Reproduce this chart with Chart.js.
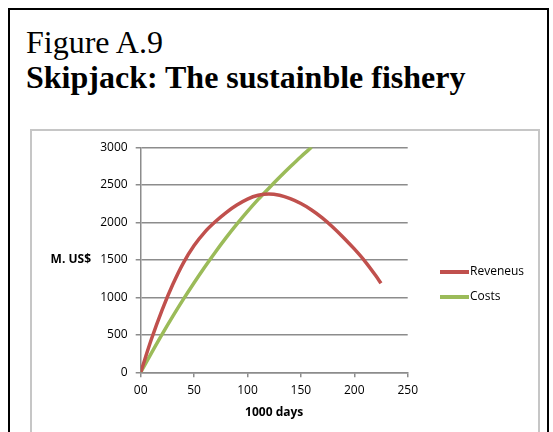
<!DOCTYPE html>
<html>
<head>
<meta charset="utf-8">
<script src="https://cdn.jsdelivr.net/npm/chart.js@4/dist/chart.umd.min.js"></script>
<style>
  html, body { margin: 0; padding: 0; background: #fff; width: 553px; height: 432px; overflow: hidden; }
  .frame { position: absolute; left: 8px; top: 8px; width: 537px; height: 470px; border: 2px solid #000; }
  .inner { position: absolute; left: 30px; top: 129px; width: 506px; height: 340px; border: 2px solid #c6c6c6; }
  .t1, .t2 { position: absolute; left: 26px; font-family: "Liberation Serif", "Times New Roman", serif;
             font-size: 32px; line-height: 32px; white-space: nowrap; color: #000; }
  .t1 { top: 26px; font-weight: normal; }
  .t2 { top: 61px; font-weight: bold; }
  canvas { position: absolute; left: 0; top: 0; }
</style>
</head>
<body>
<div class="frame"></div>
<div class="t1">Figure A.9</div>
<div class="t2">Skipjack: The sustainble fishery</div>
<div class="inner"></div>
<canvas id="c" width="553" height="432"></canvas>
<script>
// Fishing effort (1000 days) and the matching revenue / cost (M. US$)
const revenueEffort = [0, 10, 20, 30, 40, 50, 60, 70, 80, 90, 100, 110, 120, 130, 140, 150, 160, 170, 180, 190, 200, 210, 220, 225];
const revenue       = [0, 440, 830, 1170, 1460, 1690, 1870, 2010, 2130, 2230, 2310, 2360, 2378, 2360, 2315, 2250, 2165, 2060, 1935, 1795, 1645, 1480, 1290, 1187];
const costEffort    = [0, 10, 20, 30, 40, 50, 60, 70, 80, 90, 100, 110, 120, 130, 140, 150, 160];
const costs         = [0, 255, 505, 745, 975, 1195, 1405, 1605, 1795, 1975, 2145, 2305, 2455, 2600, 2740, 2875, 3000];

const seriesNames = ['Reveneus', 'Costs'];
const seriesColors = ['#C0504D', '#9BBB59'];
const xTickLabels = ['00', '50', '100', '150', '200', '250'];
const yTickLabels = ['0', '500', '1000', '1500', '2000', '2500', '3000'];
const yTitle = 'M. US$';
const xTitle = '1000 days';

const FONT = '"Open Sans", "Noto Sans", sans-serif';
const GRID = '#8c8c8c';

function points(xs, ys) { return xs.map((x, i) => ({ x: x, y: ys[i] })); }

// Horizontal y-axis caption and a line-sample legend on the right
const sideText = {
  id: 'sideText',
  afterDraw(chart) {
    const { ctx, chartArea } = chart;
    ctx.save();
    ctx.fillStyle = '#000';
    ctx.textBaseline = 'middle';
    ctx.font = 'bold 12px ' + FONT;
    ctx.textAlign = 'right';
    ctx.fillText(yTitle, 91, (chartArea.top + chartArea.bottom) / 2);

    ctx.font = '12px ' + FONT;
    ctx.textAlign = 'left';
    chart.data.datasets.forEach((ds, i) => {
      const y = 272 + i * 25;
      ctx.strokeStyle = ds.borderColor;
      ctx.lineWidth = 4;
      ctx.beginPath();
      ctx.moveTo(440, y);
      ctx.lineTo(469, y);
      ctx.stroke();
      ctx.fillText(ds.label, 470, y);
    });
    ctx.restore();
  }
};

new Chart(document.getElementById('c'), {
  type: 'scatter',
  data: {
    datasets: [
      { label: seriesNames[0], data: points(revenueEffort, revenue), borderColor: seriesColors[0],
        backgroundColor: seriesColors[0], showLine: true, borderWidth: 3.5, pointRadius: 0,
        cubicInterpolationMode: 'monotone', clip: 0 },
      { label: seriesNames[1], data: points(costEffort, costs), borderColor: seriesColors[1],
        backgroundColor: seriesColors[1], showLine: true, borderWidth: 3.5, pointRadius: 0,
        cubicInterpolationMode: 'monotone', clip: 0 }
    ]
  },
  options: {
    responsive: false,
    animation: false,
    devicePixelRatio: 1,
    layout: { padding: { left: 0, right: 145.3, top: 147.3, bottom: 12.7 } },
    plugins: { legend: { display: false }, tooltip: { enabled: false } },
    scales: {
      x: {
        type: 'linear', min: 0, max: 250,
        afterFit: s => { s.height = 47; },
        ticks: { stepSize: 50, padding: 6, color: '#000', font: { family: FONT, size: 12 },
                 callback: (v, i) => xTickLabels[i] },
        grid: { drawOnChartArea: false, drawTicks: true, tickLength: 5, color: GRID, lineWidth: 1.5 },
        border: { display: true, color: GRID, width: 1.5 },
        title: { display: true, text: xTitle, color: '#000', padding: 0,
                 font: { family: FONT, size: 12, weight: 'bold' } }
      },
      y: {
        min: 0, max: 3000,
        afterFit: s => { s.width = 140.7; },
        ticks: { stepSize: 500, padding: 8, color: '#000', font: { family: FONT, size: 12 },
                 callback: (v, i) => yTickLabels[i] },
        grid: { drawOnChartArea: true, drawTicks: true, tickLength: 5, color: GRID, lineWidth: 1.5 },
        border: { display: true, color: GRID, width: 1.5 }
      }
    }
  },
  plugins: [sideText]
});
</script>
</body>
</html>
